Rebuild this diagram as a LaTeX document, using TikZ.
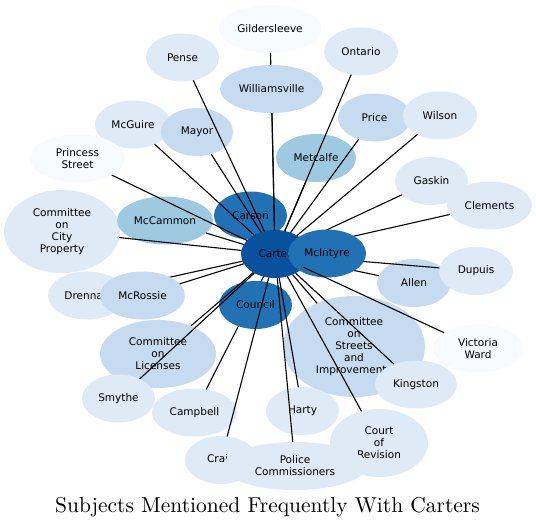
\documentclass[tikz,border=0pt]{standalone}
\usepackage{fontspec}
\usepackage{tikz}
\usetikzlibrary{shapes.geometric}

\newfontfamily\dejavu{DejaVu Sans}
\newfontfamily\titlefont{lmroman10-regular.otf}

\definecolor{blue0}{HTML}{F7FBFF}
\definecolor{blue1}{HTML}{DEEBF7}
\definecolor{blue2}{HTML}{C6DBEF}
\definecolor{blue3}{HTML}{9ECAE1}
\definecolor{blue5}{HTML}{2171B5}
\definecolor{blue6}{HTML}{08519C}

\begin{document}
\begin{tikzpicture}[
  x=1pt, y=-1pt,
  line cap=round,
  every node/.style={font=\dejavu\fontsize{10.5}{12}\selectfont},
  subj/.style 2 args={ellipse, fill=#1, minimum width=#2, minimum height=48pt,
    inner sep=0pt, align=center},
  link/.style={line width=1.1pt}
]
  \useasboundingbox (0,0) rectangle (536,527);

  % Subjects lying under the links
  \node[subj={blue0}{103pt}] (gildersleeve) at (270,29) {Gildersleeve};
  \node[subj={blue1}{73pt}] (pense) at (182.5,57.5) {Pense};
  \node[subj={blue1}{74pt}] (ontario) at (361,51.5) {Ontario};
  \node[subj={blue1}{76pt}] (mcguire) at (133,124.5) {McGuire};
  \node[subj={blue2}{72pt}] (mayor) at (197,132) {Mayor};
  \node[subj={blue2}{73pt}] (price) at (374.5,117.5) {Price};
  \node[subj={blue1}{74pt}] (wilson) at (440,115.5) {Wilson};
  \node[subj={blue0}{95pt}] (princess) at (77.5,158.5) {Princess\\Street};
  \node[subj={blue3}{80pt}] (metcalfe) at (316,158) {Metcalfe};
  \node[subj={blue1}{73pt}] (gaskin) at (431.5,181) {Gaskin};
  \node[subj={blue1}{85pt}] (clements) at (489.5,205.5) {Clements};
  \node[subj={blue1}{116pt}, minimum height=83pt] (cityprop) at (62,231.5)
    {Committee\\on\\City\\Property};
  \node[subj={blue3}{96pt}] (mccammon) at (165,220.5) {McCammon};
  \node[subj={blue5}{73pt}] (carson) at (250.5,215.5) {Carson};
  \node[subj={blue6}{68pt}] (carter) at (275,254) {Carter};
  \node[subj={blue2}{74pt}] (allen) at (414,283) {Allen};
  \node[subj={blue1}{74pt}] (dupuis) at (476,271) {Dupuis};
  \node[subj={blue1}{78pt}] (drennan) at (87,295.5) {Drennan};
  \node[subj={blue2}{142pt}, minimum height=101pt] (streets) at (354,346.5)
    {Committee\\on\\Streets\\and\\Improvements};
  \node[subj={blue0}{90pt}] (victoria) at (478,348.5) {Victoria\\Ward};
  \node[subj={blue2}{116pt}, minimum height=68pt] (licenses) at (158,354)
    {Committee\\on\\Licenses};
  \node[subj={blue1}{82pt}] (kingston) at (416,384.5) {Kingston};
  \node[subj={blue1}{73pt}] (smythe) at (118.5,398.5) {Smythe};
  \node[subj={blue1}{85pt}] (campbell) at (194.5,412.5) {Campbell};
  \node[subj={blue1}{73pt}] (harty) at (302.5,411) {Harty};
  \node[subj={blue1}{98pt}, minimum height=68pt] (revision) at (379,443)
    {Court\\of\\Revision};
  \node[subj={blue1}{72pt}] (craig) at (221,460) {Craig};
  \node[subj={blue1}{144pt}] (police) at (295,466) {Police\\Commissioners};

  % Links that the next subjects cover
  \foreach \s in {gildersleeve,drennan,campbell,gaskin,clements,dupuis,allen}
    \draw[link] (carter) -- (\s);

  % Subjects over those links
  \node[subj={blue2}{103pt}] (williamsville) at (271.5,89) {Williamsville};
  \node[subj={blue2}{85pt}] (mcrossie) at (142.5,295.5) {McRossie};
  \node[subj={blue5}{73pt}] (council) at (255.5,305) {Council};
  \node[subj={blue5}{78pt}] (mcintyre) at (327,253.5) {McIntyre};

  % Links on top
  \foreach \s in {pense,ontario,williamsville,mcguire,mayor,price,wilson,
      princess,metcalfe,mccammon,cityprop,mcrossie,licenses,smythe,craig,
      police,harty,revision,kingston,streets,victoria}
    \draw[link] (carter) -- (\s);

  % Title
  \node[font=\titlefont\fontsize{21.5}{26}\selectfont, anchor=base] (title)
    at (267.5,512) {Subjects Mentioned Frequently With Carters};
\end{tikzpicture}
\end{document}
